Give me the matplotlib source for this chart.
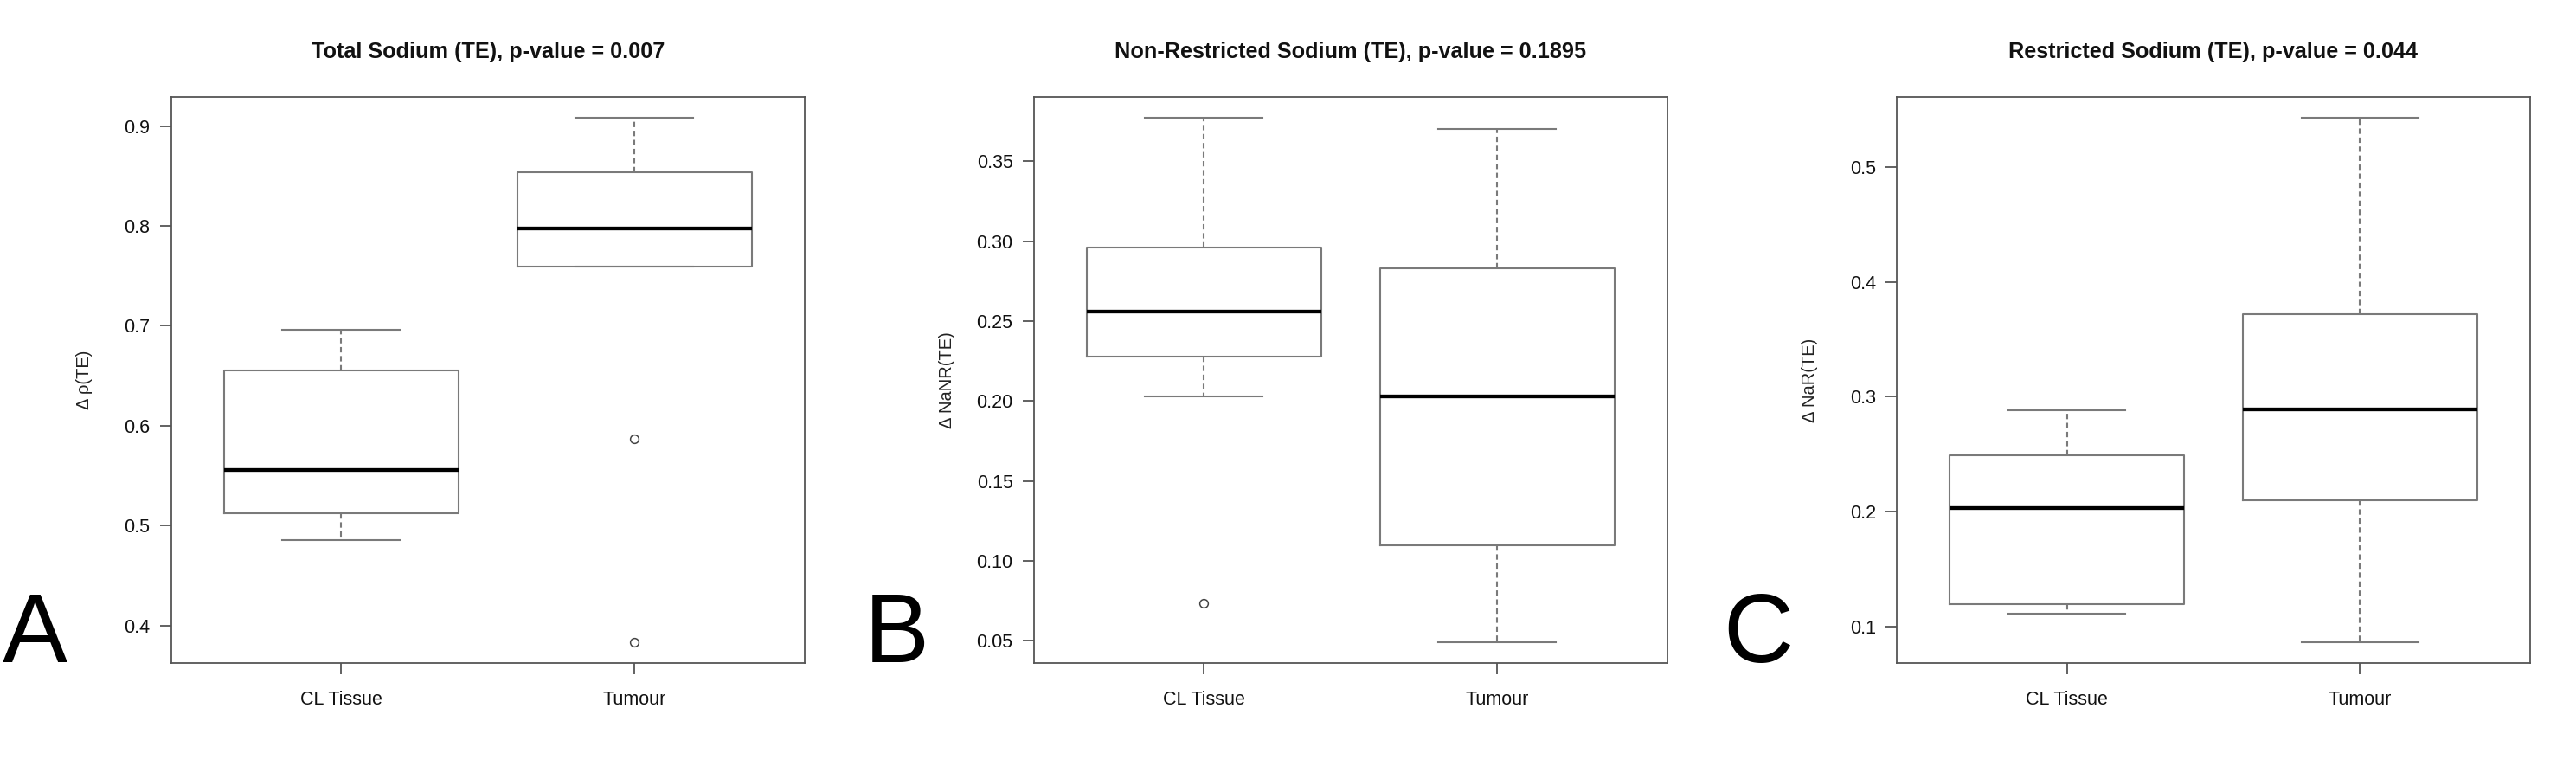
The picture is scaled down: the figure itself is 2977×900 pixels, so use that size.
import matplotlib
matplotlib.use("Agg")
import matplotlib.pyplot as plt
import numpy as np

plt.rcParams['font.family'] = ['Liberation Sans', 'DejaVu Sans']

groups = ["CL Tissue", "Tumour"]
titles = ["Total Sodium (TE), p-value = 0.007",
          "Non-Restricted Sodium (TE), p-value = 0.1895",
          "Restricted Sodium (TE), p-value = 0.044"]
ylabels = ["\u0394 \u03c1(TE)", "\u0394 NaNR(TE)", "\u0394 NaR(TE)"]
letters = ["A", "B", "C"]

# low whisker, Q1, median, Q3, high whisker
total_cl = [0.485, 0.512, 0.556, 0.655, 0.696]
total_tumour = [0.759, 0.759, 0.797, 0.854, 0.908]
total_out_cl = []
total_out_tumour = [0.587, 0.383]

nonres_cl = [0.203, 0.228, 0.256, 0.296, 0.377]
nonres_tumour = [0.049, 0.110, 0.203, 0.283, 0.370]
nonres_out_cl = [0.0735]
nonres_out_tumour = []

res_cl = [0.111, 0.119, 0.203, 0.249, 0.288]
res_tumour = [0.086, 0.210, 0.289, 0.372, 0.543]
res_out_cl = []
res_out_tumour = []

yticks_total = [0.4, 0.5, 0.6, 0.7, 0.8, 0.9]
yticks_nonres = [0.05, 0.10, 0.15, 0.20, 0.25, 0.30, 0.35]
yticks_res = [0.1, 0.2, 0.3, 0.4, 0.5]

panels = [
    (total_cl, total_tumour, total_out_cl, total_out_tumour, yticks_total, "%.1f"),
    (nonres_cl, nonres_tumour, nonres_out_cl, nonres_out_tumour, yticks_nonres, "%.2f"),
    (res_cl, res_tumour, res_out_cl, res_out_tumour, yticks_res, "%.1f"),
]

gray = "#7a7a7a"
dark = "#555555"

def make_stats(five, fliers, label):
    return dict(whislo=five[0], q1=five[1], med=five[2], q3=five[3],
                whishi=five[4], fliers=fliers, label=label)

fig = plt.figure(figsize=(29.77, 9), dpi=100)
lefts = [0.0664, 0.4013, 0.7363]
letter_x = [0.001, 0.3355, 0.6688]

for i, (cl, tum, out_cl, out_tum, yt, fmt) in enumerate(panels):
    ax = fig.add_axes([lefts[i], 0.1484, 0.2459, 0.7271])
    stats = [make_stats(cl, out_cl, groups[0]), make_stats(tum, out_tum, groups[1])]
    ax.bxp(stats, positions=[1, 2], widths=0.8, capwidths=0.4,
           boxprops=dict(color=gray, linewidth=1.5),
           whiskerprops=dict(color=gray, linewidth=1.5, linestyle=(0, (3, 2))),
           capprops=dict(color=gray, linewidth=1.5),
           medianprops=dict(color="black", linewidth=3.1, solid_capstyle="butt"),
           flierprops=dict(marker="o", markersize=7, markerfacecolor="none",
                           markeredgecolor="#444444", markeredgewidth=1.1))

    # R-style 4% padding
    vals = cl + tum + out_cl + out_tum
    lo, hi = min(vals), max(vals)
    pad = (hi - lo) * 0.04
    ax.set_ylim(lo - pad, hi + pad)
    ax.set_xlim(0.42, 2.58)

    ax.set_yticks(yt)
    ax.set_yticklabels([fmt % v for v in yt])
    ax.set_xticks([1, 2])
    ax.set_xticklabels(groups)

    for sp in ax.spines.values():
        sp.set_color(dark)
        sp.set_linewidth(1.3)
    ax.tick_params(direction="out", length=9.4, width=1.3, color=dark,
                   labelsize=15.5, labelcolor="#111111")
    ax.tick_params(axis="y", pad=8)
    ax.tick_params(axis="x", pad=13)

    ax.set_ylabel(ylabels[i], fontsize=14.5, color="#222222")
    ax.yaxis.set_label_coords(-0.124, 0.5)

    ax.text(0.5, 1.0795, titles[i], transform=ax.transAxes, ha="center",
            va="center", fontsize=18.2, fontweight="bold", color="#111111")

    fig.text(letter_x[i], 0.15, letters[i], fontsize=81, va="baseline",
             ha="left", color="black")

fig.savefig("out.png", dpi=100, facecolor="white")
